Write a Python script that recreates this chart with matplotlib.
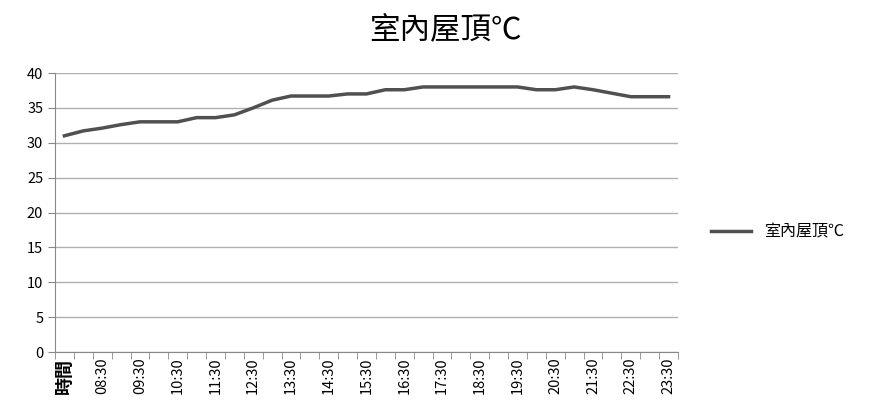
import matplotlib
matplotlib.use('Agg')
import matplotlib.pyplot as plt

plt.rcParams['font.family'] = ['Noto Sans CJK TC', 'DejaVu Sans']

# categories: header cell then every half hour from 08:00 to 23:30
categories = ['時間'] + ['%02d:%02d' % (h, m) for h in range(8, 24) for m in (0, 30)]
temps = [31.0, 31.7, 32.1, 32.6, 33.0, 33.0, 33.0, 33.6, 33.6, 34.0,
         35.0, 36.1, 36.7, 36.7, 36.7, 37.0, 37.0, 37.6, 37.6, 38.0,
         38.0, 38.0, 38.0, 38.0, 38.0, 37.6, 37.6, 38.0, 37.6, 37.1,
         36.6, 36.6, 36.6]
series_name = '室內屋頂℃'

fig = plt.figure(figsize=(8.69, 4.19), dpi=100)
ax = fig.add_axes([55/869, 1 - 352/419, (678-55)/869, (352-73)/419])

x = list(range(len(categories)))
ax.plot(x, temps, color='#505050', lw=2.5, label=series_name)

ax.set_ylim(0, 40)
ax.set_yticks(range(0, 41, 5))
ax.set_xlim(-0.5, len(categories) - 0.5)
ax.set_xticks(x[::2])
ax.set_xticklabels(categories[::2], rotation=90, fontsize=10.5)
ax.get_xticklabels()[0].set_fontsize(13)
ax.get_xticklabels()[0].set_fontweight('bold')
ax.set_xticks([i - 0.5 for i in range(len(categories) + 1)], minor=True)
ax.tick_params(axis='x', which='major', length=0, pad=4)
ax.tick_params(axis='x', which='minor', length=5, color='#888888')
ax.tick_params(axis='y', length=5, color='#888888', labelsize=10.5)
ax.grid(axis='y', color='#b0b0b0', lw=1)
ax.set_axisbelow(True)
for s in ['top', 'right']:
    ax.spines[s].set_visible(False)
for s in ['left', 'bottom']:
    ax.spines[s].set_color('#888888')

fig.text(445/869, 1 - 30/419, series_name, ha='center', va='center', fontsize=22)
ax.legend(loc='center left', bbox_to_anchor=(1.03, 0.43), frameon=False,
          handlelength=2.5, fontsize=11.5)

fig.savefig('out.png', dpi=100)
